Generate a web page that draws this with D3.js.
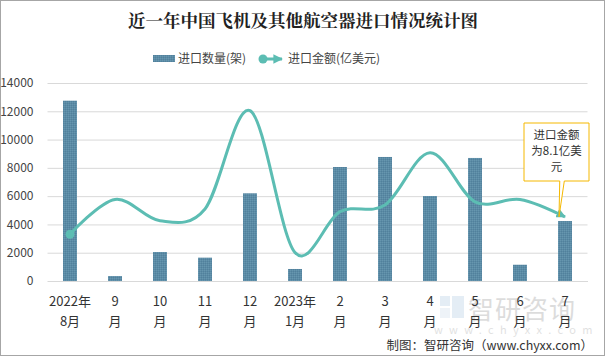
<!DOCTYPE html>
<html><head><meta charset="utf-8">
<script src="https://cdn.jsdelivr.net/npm/d3@7/dist/d3.min.js"></script>
<style>body{margin:0;background:#fff}svg{display:block}</style>
</head><body>
<script>
const categories = ["2022年\n8月","9\n月","10\n月","11\n月","12\n月","2023年\n1月","2\n月","3\n月","4\n月","5\n月","6\n月","7\n月"];
const quantity = [12750, 350, 2050, 1650, 6200, 850, 8060, 8770, 6010, 8700, 1150, 4240];
const amount = [5.9, 10.3, 7.6, 9.1, 21.5, 3.6, 8.75, 9.6, 16.2, 10.0, 10.3, 8.1];
const yTicks = [0, 2000, 4000, 6000, 8000, 10000, 12000, 14000];
const title = "近一年中国飞机及其他航空器进口情况统计图";
const seriesNames = ["进口数量(架)", "进口金额(亿美元)"];
const note = ["进口金额", "为8.1亿美", "元"];

(function(){
const W = 605, H = 356;
const svg = d3.select("body").append("svg").attr("width", W).attr("height", H);
const defs = svg.append("defs");
const pat = defs.append("pattern").attr("id","tex").attr("width",2).attr("height",2).attr("patternUnits","userSpaceOnUse");
pat.append("rect").attr("width",2).attr("height",2).attr("fill","#5a8ba6");
pat.append("rect").attr("width",1).attr("height",1).attr("fill","#6796ae");
pat.append("rect").attr("x",1).attr("y",1).attr("width",1).attr("height",1).attr("fill","#52809b");
defs.append("marker").attr("id","arr").attr("viewBox","0 0 10 10").attr("refX",9).attr("refY",5)
  .attr("markerWidth",3.2).attr("markerHeight",3.2).attr("orient","auto").attr("markerUnits","strokeWidth")
  .append("path").attr("d","M0,0L10,5L0,10z").attr("fill","#5cbdb3");

svg.append("rect").attr("x",0.5).attr("y",0.5).attr("width",W-1).attr("height",H-1).attr("fill","#fff").attr("stroke","#a6a6a6");

const font = "'Noto Sans CJK SC','Microsoft YaHei',sans-serif";
svg.append("text").attr("x",303).attr("y",27).attr("text-anchor","middle").attr("font-family","'Noto Serif CJK SC','Noto Sans CJK SC',serif")
  .attr("font-weight","bold").attr("font-size",17.5).attr("fill","#222").text(title);

// legend
const lg = svg.append("g").attr("font-family",font).attr("font-size",12).attr("fill","#444");
lg.append("rect").attr("x",153).attr("y",55).attr("width",22).attr("height",7).attr("fill","url(#tex)");
lg.append("text").attr("x",178).attr("y",63).text(seriesNames[0]);
lg.append("line").attr("x1",263).attr("x2",282).attr("y1",59).attr("y2",59).attr("stroke","#5cbdb3").attr("stroke-width",3).attr("marker-end","url(#arr)");
lg.append("circle").attr("cx",263).attr("cy",59).attr("r",4.5).attr("fill","#5cbdb3");
lg.append("text").attr("x",288).attr("y",63).text(seriesNames[1]);

const pl = 47.5, pr = 587.5, pt = 83, pb = 281;
const x = d3.scaleBand().domain(d3.range(categories.length)).range([pl, pr]).paddingInner(0.69).paddingOuter(0.345);
const y = d3.scaleLinear().domain([0, 14000]).range([pb, pt]);
const y2 = d3.scaleLinear().domain([0, 25]).range([pb, pt]);

const yAxis = d3.axisLeft(y).tickValues(yTicks).tickFormat(d3.format("d")).tickSize(-(pr-pl)).tickPadding(14);
const ga = svg.append("g").attr("transform",`translate(${pl},0)`).call(yAxis);
ga.select(".domain").remove();
ga.selectAll(".tick line").attr("stroke","#d9d9d9").attr("stroke-width",1);
ga.selectAll(".tick text").attr("font-family",font).attr("font-size",12).attr("fill","#444");

// watermark
const wm = svg.append("g").attr("opacity",0.22);
wm.append("rect").attr("x",440).attr("y",296).attr("width",10).attr("height",10).attr("fill","#8ab2d6");
wm.append("rect").attr("x",452).attr("y",296).attr("width",12).attr("height",22).attr("fill","#8ab2d6");
wm.append("rect").attr("x",440).attr("y",308).attr("width",10).attr("height",10).attr("fill","#b7cde3");
wm.append("text").attr("x",468).attr("y",319).attr("font-family",font).attr("font-size",26).attr("fill","#666").attr("letter-spacing",1).text("智研咨询");
wm.append("text").attr("x",434).attr("y",334).attr("font-family",font).attr("font-size",11).attr("fill","#777").attr("letter-spacing",6.3).text("www.chyxx.com");

svg.append("g").selectAll("rect").data(quantity).join("rect")
  .attr("x",(d,i)=>x(i)).attr("width",x.bandwidth()).attr("y",d=>y(d)).attr("height",d=>pb-y(d)).attr("fill","url(#tex)");

const xAxis = d3.axisBottom(x).tickSize(0).tickFormat("");
const gx = svg.append("g").attr("transform",`translate(0,${pb})`).call(xAxis);
gx.select(".domain").attr("stroke","#d9d9d9");
gx.selectAll(".tick").each(function(d){
  const lines = categories[d].split("\n");
  const t = d3.select(this).append("text").attr("font-family",font).attr("font-size",13).attr("fill","#333").attr("text-anchor","middle");
  lines.forEach((s,k)=>t.append("tspan").attr("x",0).attr("y",25+k*20).text(s));
});

const line = d3.line().x((d,i)=>x(i)+x.bandwidth()/2).y(d=>y2(d)).curve(d3.curveCatmullRom.alpha(0));
svg.append("path").datum(amount).attr("d",line).attr("fill","none").attr("stroke","#5cbdb3").attr("stroke-width",3).attr("marker-end","url(#arr)");
svg.append("circle").attr("cx",x(0)+x.bandwidth()/2).attr("cy",y2(amount[0])).attr("r",4.5).attr("fill","#5cbdb3");

// callout
const li = amount.length-1;
const px = x(li)+x.bandwidth()/2-6, py = y2(amount[li]);
const bx = 524, by = 123, bw = 65, bh = 58;
svg.append("path").attr("d",`M${bx},${by}H${bx+bw}V${by+bh}H${bx+bw*0.62}L${px},${py}L${bx+bw*0.55},${by+bh}H${bx}Z`)
  .attr("fill","#fff").attr("stroke","#f5b800").attr("stroke-width",1);
const nt = svg.append("text").attr("font-family",font).attr("font-size",11.5).attr("fill","#333").attr("text-anchor","middle");
note.forEach((s,k)=>nt.append("tspan").attr("x",bx+bw/2).attr("y",by+16+k*16).text(s));

svg.append("text").attr("x",593).attr("y",350).attr("text-anchor","end").attr("font-family",font).attr("font-size",12.5).attr("fill","#333").text("制图：智研咨询（www.chyxx.com）");
})();
</script>
</body></html>
